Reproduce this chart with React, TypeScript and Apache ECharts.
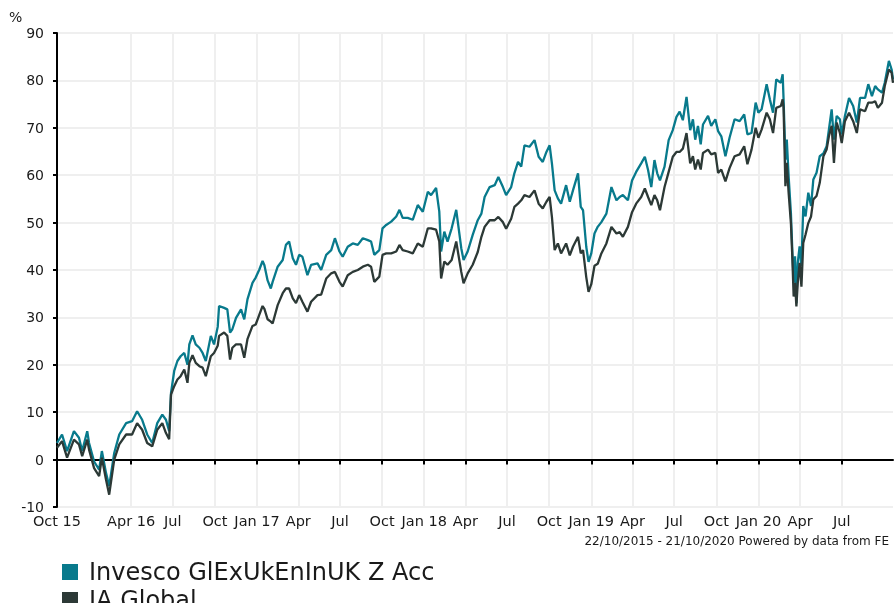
import React, { useEffect, useRef } from "react";
import * as echarts from "echarts";

// Days elapsed since 22/10/2015 (start of the period 22/10/2015 - 21/10/2020)
const daysFromStart = [
  0, 11, 22, 37, 48, 55, 66, 70, 81, 92, 98, 107, 114, 125, 136, 151, 164, 175, 186, 197, 208, 219, 230, 238, 245,
  249, 256, 263, 270, 278, 285, 289, 296, 303, 311, 318, 325, 336, 343, 351, 354, 365, 372, 378, 383, 391, 402, 409, 416, 427, 434, 442, 449, 453, 460,
  467, 471, 482, 493, 500, 507, 515, 522, 529, 536, 547, 555, 569, 577, 588, 599, 607, 617, 624, 635, 646, 657, 668, 679, 686, 693, 704, 711, 719, 730, 741, 748, 755, 766, 777, 788, 799, 810, 817, 828, 835, 839, 846, 853, 862, 872, 883, 888, 897, 908, 919,
  927, 934, 945, 956, 964, 974, 981, 992, 999, 1007, 1014, 1021, 1032, 1043, 1052, 1061, 1069, 1076, 1081, 1087, 1094, 1101, 1112, 1120, 1127, 1138, 1144, 1149, 1156, 1161, 1167, 1174, 1181, 1189, 1200, 1211, 1222, 1229, 1236, 1247, 1256, 1265, 1276, 1284, 1291, 1298, 1305, 1311, 1317, 1327, 1336, 1345, 1353, 1360, 1367, 1375, 1383,
  1389, 1394, 1400, 1406, 1411, 1422, 1429, 1438, 1444, 1451, 1460, 1469, 1480, 1491, 1501, 1508, 1517, 1526, 1532, 1539, 1550, 1557, 1564, 1571, 1581, 1585, 1587, 1591, 1594, 1598, 1603, 1606, 1609, 1612, 1615, 1618, 1622, 1626, 1630, 1635, 1641, 1647, 1652, 1659, 1666, 1674, 1681, 1686, 1692, 1697, 1703, 1710, 1714, 1721, 1730, 1739, 1747, 1754, 1765, 1772, 1780, 1787, 1793, 1802, 1808, 1817, 1823, 1826,
];

const invescoValues = [
  3.5, 5.3, 1.8, 6.0, 4.6, 1.8, 6.0, 3.5, -0.4, -2.1, 1.8, -2.8, -5.6, 1.4, 5.3, 7.7, 8.1, 10.2, 8.4, 5.3, 3.5, 7.7, 9.5, 8.4, 6.0,
  14.0, 18.7, 20.8, 21.8, 22.5, 20.0, 24.3, 26.2, 24.3, 23.6, 22.5, 20.8, 26.1, 24.3, 28.0, 32.4, 32.0, 31.7, 26.8, 27.5, 29.9, 31.7, 29.6, 33.8, 37.3, 38.4, 40.1, 41.9, 41.0, 37.8,
  36.1, 37.5, 40.7, 42.1, 45.3, 46.0, 42.5, 41.1, 43.2, 42.8, 38.9, 41.1, 41.4, 40.0, 43.2, 44.2, 46.7, 43.9, 42.8, 44.9, 45.6, 45.3, 46.7, 46.3, 46.0, 43.2, 44.2, 48.8, 49.5, 50.2, 51.3, 52.7, 51.0, 51.0, 50.6, 53.7, 52.3, 56.5, 55.8, 57.3, 52.3, 43.9, 48.1, 46.0, 48.8, 52.7, 44.6, 42.1, 43.9, 47.4, 50.5,
  51.9, 55.4, 57.5, 57.9, 59.6, 57.5, 55.8, 57.5, 60.4, 62.8, 61.8, 66.3, 66.0, 67.4, 63.9, 62.8, 64.9, 66.3, 62.5, 56.8, 55.1, 54.0, 57.9, 54.4, 56.8, 60.4, 53.3, 52.6, 44.9, 41.7, 43.5, 47.7, 49.1, 50.1, 51.9, 57.5, 54.7, 55.4, 55.8, 54.7, 58.9, 60.7, 62.5, 63.9, 61.1, 57.5, 63.2, 60.4, 58.9, 61.8, 67.4, 69.5, 72.3, 73.4, 71.6, 76.5, 69.5,
  71.8, 67.5, 70.4, 66.5, 70.7, 72.5, 70.4, 71.8, 69.3, 68.2, 64.0, 67.9, 71.8, 71.4, 72.8, 68.6, 68.9, 75.3, 73.2, 73.9, 79.2, 76.0, 73.2, 80.2, 79.5, 81.3, 76.0, 63.3, 67.5, 59.8, 52.0, 44.3, 37.3, 42.9, 33.0, 41.5, 45.0, 40.8, 53.5, 51.3, 56.3, 53.5, 59.1, 60.5, 64.0, 64.6, 66.1, 69.6, 73.9, 67.5, 72.5, 71.8, 68.6, 72.5, 76.3, 74.6, 71.1, 76.3, 76.3, 79.2, 76.7, 78.8, 78.1, 77.4, 79.5, 84.1, 82.3, 80.2,
];

const iaGlobalValues = [
  2.5, 3.9, 0.4, 4.2, 3.2, 0.7, 4.2, 2.1, -1.8, -3.5, 0.4, -4.2, -7.4, 0.0, 3.2, 5.3, 5.3, 7.7, 6.3, 3.5, 2.8, 6.3, 7.7, 5.6, 4.3,
  13.7, 15.5, 16.9, 17.6, 19.0, 16.2, 20.4, 22.0, 20.4, 19.7, 19.4, 17.6, 21.8, 22.5, 24.0, 26.1, 26.8, 26.1, 21.1, 23.6, 24.3, 24.3, 21.5, 25.4, 28.2, 28.5, 30.6, 32.4, 31.8, 29.6,
  29.1, 28.7, 32.6, 35.1, 36.1, 36.1, 34.0, 33.0, 34.7, 33.3, 31.2, 33.3, 34.7, 34.8, 38.2, 39.3, 39.6, 37.5, 36.5, 38.9, 39.6, 40.0, 40.7, 41.1, 40.7, 37.5, 38.6, 43.2, 43.5, 43.5, 43.9, 45.3, 44.2, 43.9, 43.5, 45.6, 44.9, 48.8, 48.8, 48.5, 46.0, 38.2, 41.8, 41.1, 42.1, 46.0, 39.6, 37.2, 39.3, 41.1, 43.8,
  47.0, 49.1, 50.5, 50.5, 51.2, 50.1, 48.7, 50.8, 53.3, 54.0, 54.7, 55.8, 55.4, 56.8, 54.0, 53.0, 54.4, 55.4, 51.2, 44.2, 45.6, 43.5, 45.6, 43.1, 44.9, 47.0, 43.5, 44.2, 38.5, 35.4, 37.0, 40.9, 41.3, 43.5, 45.6, 49.1, 47.7, 48.0, 47.0, 49.1, 52.2, 54.0, 55.4, 57.2, 55.4, 53.7, 55.8, 54.7, 52.6, 57.5, 60.7, 63.9, 64.9, 64.9, 65.6, 68.9, 62.5,
  64.0, 61.2, 63.3, 61.2, 64.7, 65.4, 64.4, 64.7, 60.5, 61.2, 58.7, 61.5, 64.0, 64.4, 66.1, 62.3, 65.4, 70.0, 67.9, 69.6, 73.2, 71.8, 68.9, 74.2, 74.6, 76.0, 74.2, 57.7, 62.6, 56.3, 49.9, 42.9, 34.4, 37.3, 32.3, 37.3, 41.5, 36.5, 45.7, 47.5, 49.9, 51.3, 54.9, 55.6, 58.4, 64.0, 65.4, 68.2, 70.4, 62.6, 71.1, 68.9, 66.8, 71.4, 73.2, 71.4, 68.9, 73.9, 73.5, 75.3, 75.3, 75.6, 74.2, 75.3, 78.8, 82.3, 81.6, 79.5,
];

// Quarter-start ticks (days since 22/10/2015) and their labels
const tickDays = [0, 162, 253, 345, 437, 527, 618, 710, 802, 892, 983, 1075, 1167, 1257, 1348, 1440, 1532, 1623, 1714];
const tickLabels = ["Oct 15", "Apr 16", "Jul", "Oct", "Jan 17", "Apr", "Jul", "Oct", "Jan 18", "Apr", "Jul", "Oct", "Jan 19", "Apr", "Jul", "Oct", "Jan 20", "Apr", "Jul"];

const seriesNames = ["Invesco GlExUkEnInUK Z Acc", "IA Global"];
const seriesColors = ["#087a8c", "#2c3936"];
const footerText = "22/10/2015 - 21/10/2020 Powered by data from FE";
const totalDays = 1826;

const FONT = "DejaVu Sans, Verdana, sans-serif";

export default function App() {
  const ref = useRef<HTMLDivElement>(null);

  useEffect(() => {
    if (!ref.current) return;
    const chart = echarts.init(ref.current, null, { renderer: "svg" });
    const labelMap: Record<number, string> = {};
    tickDays.forEach((d, i) => (labelMap[d] = tickLabels[i]));

    const legendTops = [560, 588];

    chart.setOption({
      animation: false,
      grid: { left: 57, right: 1, top: 33, bottom: 96, containLabel: false },
      xAxis: {
        type: "value",
        min: 0,
        max: totalDays,
        axisLine: { show: true, lineStyle: { color: "#000", width: 2 } },
        axisTick: { show: true, length: 5, lineStyle: { color: "#000", width: 2 }, customValues: tickDays },
        axisLabel: {
          customValues: tickDays,
          formatter: (v: number) => labelMap[Math.round(v)] ?? "",
          color: "#1a1a1a",
          fontFamily: FONT,
          fontSize: 14.5,
          margin: 6,
        },
        splitLine: { show: true, lineStyle: { color: "#efefef", width: 2 } },
      },
      yAxis: {
        type: "value",
        min: -10,
        max: 90,
        interval: 10,
        axisLine: { show: true, lineStyle: { color: "#000", width: 2 } },
        axisTick: { show: true, length: 4, lineStyle: { color: "#000", width: 2 } },
        axisLabel: { color: "#1a1a1a", fontFamily: FONT, fontSize: 14, margin: 13 },
        splitLine: { show: true, lineStyle: { color: "#efefef", width: 2 } },
      },
      legend: seriesNames.map((name, i) => ({
        orient: "vertical",
        left: 62,
        top: legendTops[i],
        padding: 0,
        itemWidth: 16,
        itemHeight: 16,
        icon: "rect",
        data: [name],
        textStyle: { fontSize: 24, lineHeight: 24, fontFamily: FONT, color: "#1a1a1a", padding: [0, 0, 0, 6] },
      })),
      graphic: [
        { type: "text", left: 9, top: 10, style: { text: "%", fontSize: 14, fontFamily: FONT, fill: "#1a1a1a" } },
        {
          type: "text",
          x: 889,
          y: 541,
          style: { text: footerText, align: "right", verticalAlign: "middle", fontSize: 12, fontFamily: FONT, fill: "#1a1a1a" },
        },
      ],
      series: seriesNames.map((name, s) => ({
        name,
        type: "line",
        showSymbol: false,
        symbol: "none",
        color: seriesColors[s],
        lineStyle: { width: 2.3, color: seriesColors[s] },
        data: daysFromStart.map((d, i) => [d, (s === 0 ? invescoValues : iaGlobalValues)[i]]),
      })),
    });
    return () => chart.dispose();
  }, []);

  return <div ref={ref} style={{ position: "fixed", left: 0, top: 0, width: 894, height: 603 }} />;
}
